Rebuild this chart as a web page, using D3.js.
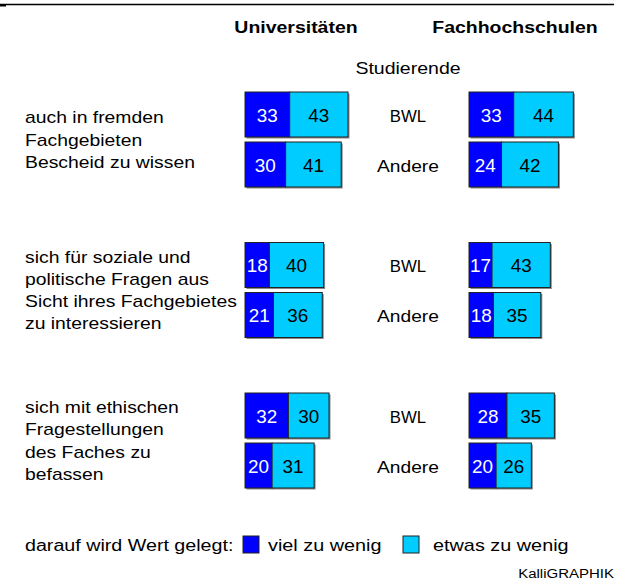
<!DOCTYPE html>
<html><head><meta charset="utf-8">
<script src="https://cdn.jsdelivr.net/npm/d3@7"></script>
<style>body{margin:0;background:#fff}svg{display:block}text{font-family:"Liberation Sans",Arial,sans-serif}</style>
</head><body><div id="c"></div>
<script>
const questions = [
  ["auch in fremden","Fachgebieten","Bescheid zu wissen"],
  ["sich für soziale und","politische Fragen aus","Sicht ihres Fachgebietes","zu interessieren"],
  ["sich mit ethischen","Fragestellungen","des Faches zu","befassen"]
];
const groups = ["BWL","Andere"];
const schools = ["Universitäten","Fachhochschulen"];
// values [question][group] for each school
const uniViel = [[33,30],[18,21],[32,20]];
const uniEtwas = [[43,41],[40,36],[30,31]];
const fhViel = [[33,24],[17,18],[28,20]];
const fhEtwas = [[44,42],[43,35],[35,26]];
const legendLabels = ["viel zu wenig","etwas zu wenig"];
const colors = ["#0000ff","#00ccff"];

const W=622,H=582;
const svg=d3.select("#c").append("svg").attr("width",W).attr("height",H);

// horizontally stretched text helper
function stext(parent,x,y,str,size,sx,anchor,weight){
  return parent.append("text")
    .attr("transform",`translate(${x},${y}) scale(${sx},1)`)
    .attr("text-anchor",anchor||"start")
    .attr("font-size",size).attr("font-weight",weight||"normal").text(str);
}

svg.append("line").attr("x1",0).attr("x2",614).attr("y1",4.5).attr("y2",4.5).attr("stroke","#000").attr("stroke-width",1.5);
svg.append("rect").attr("x",0).attr("y",4).attr("width",6).attr("height",2.5).attr("fill","#000");

const x = d3.scaleLinear().domain([0,100]).range([0,135.5]);
const schoolX = [245,469];
const qY = d3.scalePoint().domain([0,1,2]).range([92,393]);
const gY = d3.scaleBand().domain(groups).range([0,95]).paddingInner(0.1);

schools.forEach((s,i)=>stext(svg,[296,515][i],33,s,16.5,1.18,"middle","bold"));
stext(svg,408,74,"Studierende",16,1.22,"middle");

const data=[[uniViel,uniEtwas],[fhViel,fhEtwas]];
questions.forEach((q,qi)=>{
  const y0=qY(qi);
  const n=q.length;
  const mid=y0+47.5;
  const lh=22.3;
  q.forEach((line,i)=>stext(svg,25,mid+(i-(n-1)/2)*lh+6,line,16,1.21,"start"));
  groups.forEach((g,gi)=>{
    const yy=y0+gY(g), h=gY.bandwidth();
    stext(svg,408,yy+h/2+7,g,16,g==="BWL"?1.05:1.2,"middle");
    schoolX.forEach((sx,si)=>{
      const v=data[si][0][qi][gi], e=data[si][1][qi][gi];
      const segs=[{s:0,v:v,c:colors[0],tc:"#fff"},{s:v,v:e,c:colors[1],tc:"#000"}];
      const total=v+e;
      svg.append("rect").attr("x",sx+1.5).attr("y",yy+1.5).attr("width",x(total)).attr("height",h).attr("fill","#888");
      segs.forEach(sg=>{
        svg.append("rect").attr("x",sx+x(sg.s)).attr("y",yy).attr("width",x(sg.v)).attr("height",h)
          .attr("fill",sg.c).attr("stroke","#222").attr("stroke-width",1);
        stext(svg,sx+x(sg.s)+x(sg.v)/2,yy+h/2+7,sg.v,18,1.05,"middle").attr("fill",sg.tc);
      });
    });
  });
});

stext(svg,25,551,"darauf wird Wert gelegt:",16,1.23,"start");
const lx=[243,403];
legendLabels.forEach((l,i)=>{
  svg.append("rect").attr("x",lx[i]).attr("y",536).attr("width",16).attr("height",17).attr("fill",colors[i]).attr("stroke","#222");
  stext(svg,[268,433][i],551,l,16,1.24,"start");
});
stext(svg,614,578,"KalliGRAPHIK",12,1.25,"end");
</script></body></html>
